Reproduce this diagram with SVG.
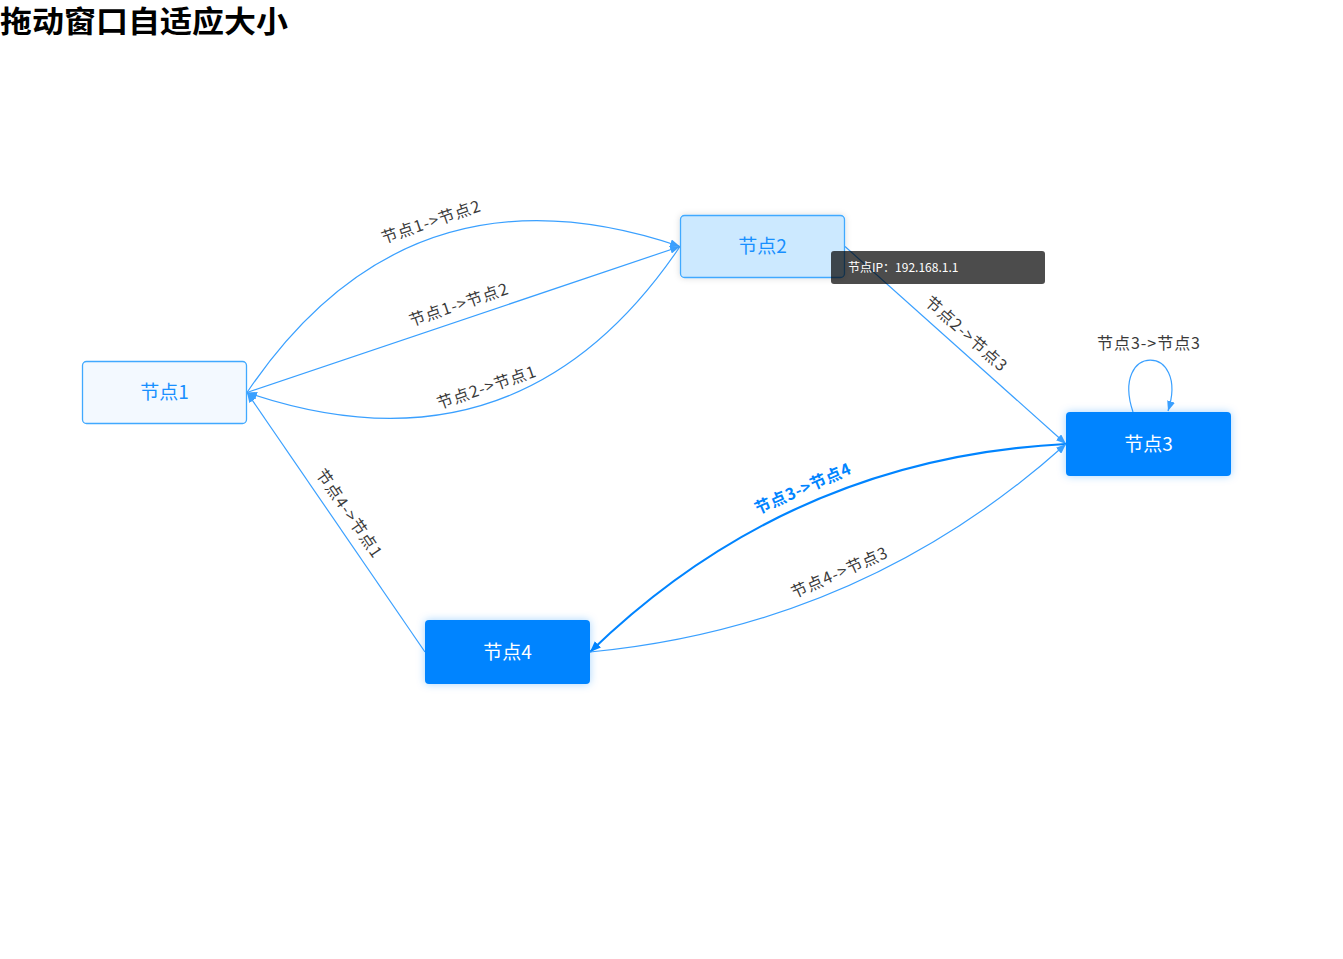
<svg xmlns="http://www.w3.org/2000/svg" width="1343" height="959" viewBox="0 0 1343 959">
<style>
  .title{font-family:"Noto Sans CJK SC","Noto Sans",sans-serif;font-weight:700;font-size:30px;fill:#000}
  .nlabel{font-family:"Noto Sans CJK SC","Noto Sans",sans-serif;font-size:19px;text-anchor:middle}
  .light{fill:#1890ff}
  .dark{fill:#ffffff}
  .elabel{font-family:"Noto Sans CJK SC","Noto Sans",sans-serif;font-size:16px;fill:#3a3a3a;text-anchor:middle}
  .hlabel{font-family:"Noto Sans CJK SC","Noto Sans",sans-serif;font-size:16px;font-weight:700;fill:#0084ff;text-anchor:middle}
  .edge{fill:none;stroke:#3aa0ff;stroke-width:1.2}
  .hedge{fill:none;stroke:#0084ff;stroke-width:2.2}
  .tip{font-family:"Noto Sans CJK SC","Noto Sans",sans-serif;font-size:12px;fill:#ffffff}
</style>
<defs>
  <marker id="arr" viewBox="0 0 10 8" refX="10" refY="4" markerWidth="10" markerHeight="8" markerUnits="userSpaceOnUse" orient="auto">
    <path d="M0,0 L10,4 L0,8 Z" fill="#3aa0ff"/>
  </marker>
  <marker id="harr" viewBox="0 0 10 8" refX="10" refY="4" markerWidth="11" markerHeight="9" markerUnits="userSpaceOnUse" orient="auto">
    <path d="M0,0 L10,4 L0,8 Z" fill="#0084ff"/>
  </marker>
  <filter id="glow" x="-20%" y="-40%" width="140%" height="180%">
    <feDropShadow dx="0" dy="0" stdDeviation="4" flood-color="#0084ff" flood-opacity="0.35"/>
  </filter>
  <filter id="gshadow" x="-20%" y="-40%" width="140%" height="180%">
    <feDropShadow dx="0" dy="0" stdDeviation="3" flood-color="#000000" flood-opacity="0.15"/>
  </filter>
</defs>

<text class="title" x="0" y="32" textLength="288" lengthAdjust="spacingAndGlyphs">拖动窗口自适应大小</text>

<g id="edges">
  <g id="e1-2a">
    <path class="edge" d="M247,392.5 Q408,154 680,246.5" marker-end="url(#arr)"/>
    <text class="elabel" textLength="103" lengthAdjust="spacing" transform="translate(435.75,236.7) rotate(-18.6)" y="-10">节点1-&gt;节点2</text>
  </g>
  <g id="e1-2b">
    <path class="edge" d="M247,392.5 L680,246.5" marker-end="url(#arr)"/>
    <text class="elabel" textLength="103" lengthAdjust="spacing" transform="translate(463.5,319.5) rotate(-18.6)" y="-10">节点1-&gt;节点2</text>
  </g>
  <g id="e2-1">
    <path class="edge" d="M680,246.5 Q519,485 247,392.5" marker-end="url(#arr)"/>
    <text class="elabel" textLength="103" lengthAdjust="spacing" transform="translate(491.25,402.2) rotate(-18.6)" y="-10">节点2-&gt;节点1</text>
  </g>
  <g id="e2-3">
    <path class="edge" d="M845,246.5 L1066,444" marker-end="url(#arr)"/>
    <text class="elabel" textLength="103" lengthAdjust="spacing" transform="translate(955.5,345.25) rotate(41.8)" y="-10">节点2-&gt;节点3</text>
  </g>
  <g id="e3-3">
    <path class="edge" d="M1133,412 C1110,343 1190,343 1168,411" marker-end="url(#arr)"/>
    <text class="elabel" textLength="103" lengthAdjust="spacing" x="1148.5" y="349">节点3-&gt;节点3</text>
  </g>
  <g id="e3-4">
    <path class="hedge" d="M1066,444 Q790,458 590,652" marker-end="url(#harr)"/>
    <text class="hlabel" textLength="103" lengthAdjust="spacing" transform="translate(809,503) rotate(-23.6)" y="-10">节点3-&gt;节点4</text>
  </g>
  <g id="e4-3">
    <path class="edge" d="M590,652 Q863,626 1066,444" marker-end="url(#arr)"/>
    <text class="elabel" textLength="103" lengthAdjust="spacing" transform="translate(845.5,587) rotate(-23.6)" y="-10">节点4-&gt;节点3</text>
  </g>
  <g id="e4-1">
    <path class="edge" d="M425,652 L247,392.5" marker-end="url(#arr)"/>
    <text class="elabel" textLength="103" lengthAdjust="spacing" transform="translate(336,522) rotate(55.6)" y="-10">节点4-&gt;节点1</text>
  </g>
</g>

<g id="node1">
  <rect x="82.5" y="361.5" width="164" height="62" rx="4" fill="#f3f9ff" stroke="#40a9ff" stroke-width="1.3"/>
  <text class="nlabel light" x="164.5" y="399">节点1</text>
</g>
<g id="node2">
  <rect x="680.5" y="215.5" width="164" height="62" rx="4" fill="#cce9ff" stroke="#40a9ff" stroke-width="1.3" filter="url(#gshadow)"/>
  <text class="nlabel light" x="762.5" y="253">节点2</text>
</g>
<g id="node3">
  <rect x="1066" y="412" width="165" height="64" rx="4" fill="#0084ff" filter="url(#glow)"/>
  <text class="nlabel dark" x="1148.5" y="450.5">节点3</text>
</g>
<g id="node4">
  <rect x="425" y="620" width="165" height="64" rx="4" fill="#0084ff" filter="url(#glow)"/>
  <text class="nlabel dark" x="507.5" y="658.5">节点4</text>
</g>

<g id="tooltip">
  <rect x="831" y="251" width="214" height="33" rx="3" fill="#000000" fill-opacity="0.7"/>
  <text class="tip" x="848" y="272">节点IP：192.168.1.1</text>
</g>
</svg>
